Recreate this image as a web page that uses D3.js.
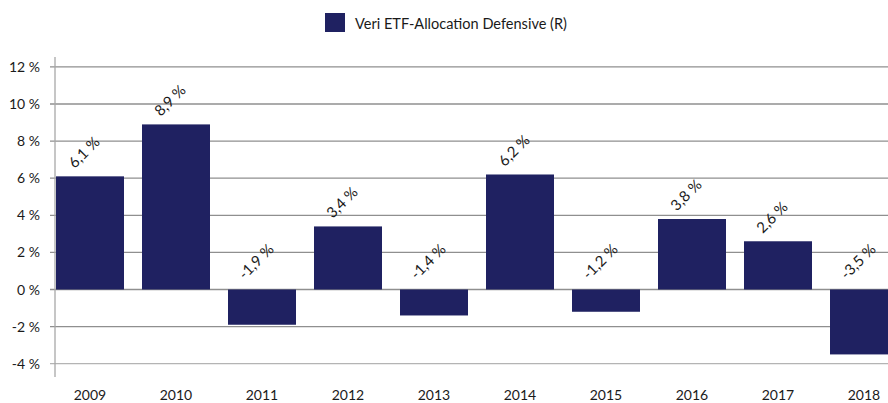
<!DOCTYPE html>
<html><head><meta charset="utf-8">
<script src="https://cdn.jsdelivr.net/npm/d3@7"></script>
<style>body{margin:0;background:#fff}svg{display:block}text{font-family:Lato,"Open Sans",sans-serif}</style>
</head><body><svg id="c" width="888" height="403"></svg>
<script>
const years = ["2009","2010","2011","2012","2013","2014","2015","2016","2017","2018"];
const values = [6.1, 8.9, -1.9, 3.4, -1.4, 6.2, -1.2, 3.8, 2.6, -3.5];
const yTicks = [-4, -2, 0, 2, 4, 6, 8, 10, 12];
const seriesName = "Veri ETF-Allocation Defensive (R)";

const svg = d3.select("#c");
const barColor = "#1f2161";
const x = d3.scaleBand().domain(years).range([47, 907]).paddingInner(18/86).paddingOuter(9/86);
const y = d3.scaleLinear().domain([-4, 12]).range([363.7, 66.9]);

// gridlines
svg.append("g").selectAll("line").data(yTicks).join("line")
  .attr("x1", 50).attr("x2", 888)
  .attr("y1", d => y(d)).attr("y2", d => y(d))
  .attr("stroke", d => d === -4 ? "#b4b4b4" : "#8f8f8f").attr("stroke-width", 1.3);

// y axis line
svg.append("line").attr("x1", 55).attr("x2", 55).attr("y1", 57).attr("y2", 377)
  .attr("stroke", "#a8a8a8").attr("stroke-width", 1.3);

// y tick labels
svg.append("g").selectAll("text").data(yTicks).join("text")
  .attr("x", 40).attr("y", d => y(d)).attr("dy", "0.36em")
  .attr("text-anchor", "end").attr("font-size", 14).attr("fill", "#1a1a1a")
  .text(d => d + " %");

// bars
svg.append("g").selectAll("rect").data(values).join("rect")
  .attr("x", (d, i) => x(years[i]))
  .attr("width", x.bandwidth())
  .attr("y", d => y(Math.max(0, d)))
  .attr("height", d => Math.abs(y(d) - y(0)))
  .attr("fill", barColor);

// data labels
svg.append("g").selectAll("text").data(values).join("text")
  .attr("transform", (d, i) => {
    const cx = x(years[i]) + x.bandwidth() / 2 - 6;
    const cy = (d >= 0 ? y(d) - 24 : y(0) - 28);
    return `translate(${cx},${cy}) rotate(-45)`;
  })
  .attr("text-anchor", "middle").attr("dy", "0.35em")
  .attr("font-size", 15).attr("fill", "#1a1a1a")
  .text(d => String(d).replace(".", ",") + " %");

// x labels
svg.append("g").selectAll("text").data(years).join("text")
  .attr("x", d => x(d) + x.bandwidth() / 2).attr("y", 400)
  .attr("text-anchor", "middle").attr("font-size", 14).attr("fill", "#1a1a1a")
  .text(d => d);

// legend
svg.append("rect").attr("x", 325).attr("y", 13).attr("width", 20).attr("height", 19).attr("fill", barColor);
svg.append("text").attr("x", 355).attr("y", 28.5).attr("font-size", 14.5).attr("fill", "#1a1a1a")
  .attr("textLength", 212).attr("lengthAdjust", "spacingAndGlyphs")
  .text(seriesName);
</script></body></html>
